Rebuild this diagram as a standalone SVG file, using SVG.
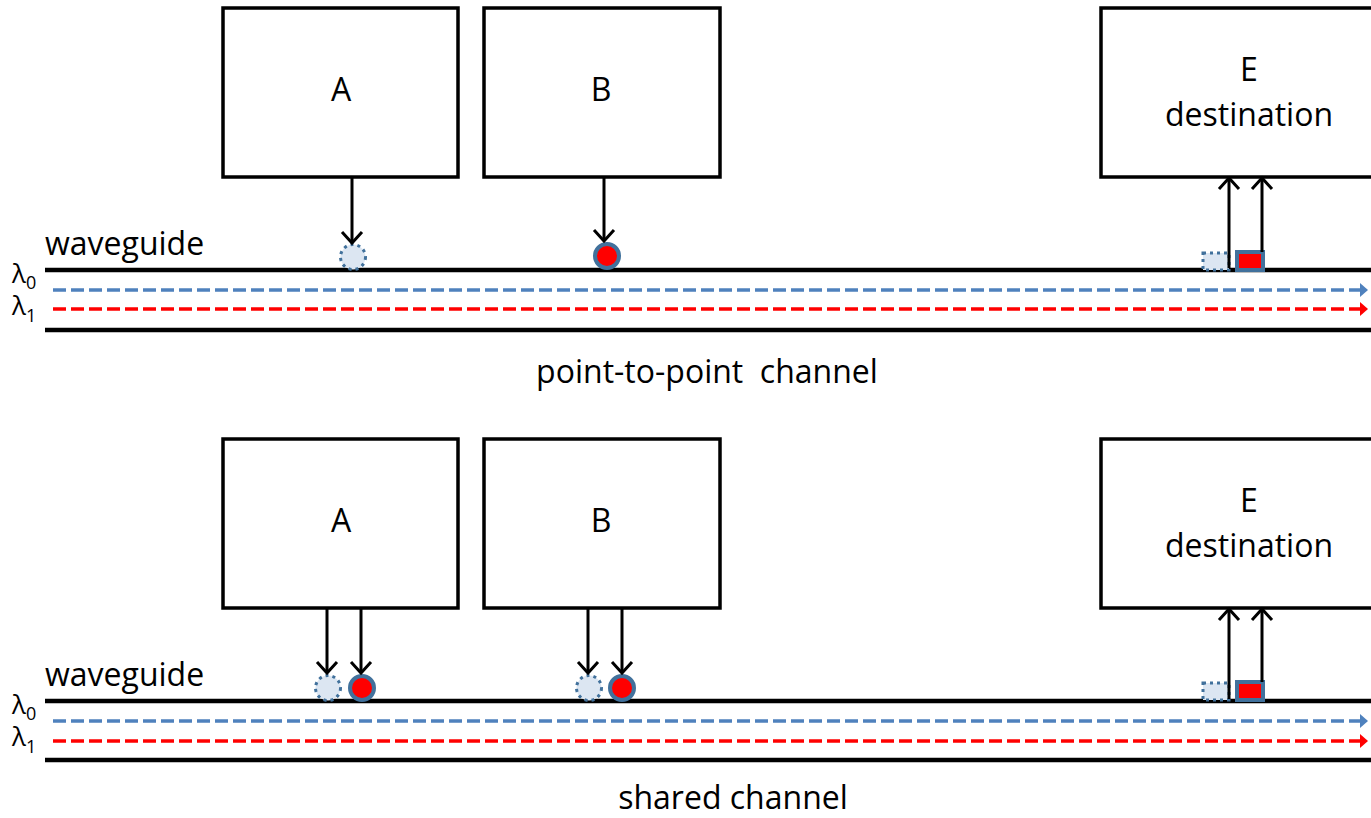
<svg xmlns="http://www.w3.org/2000/svg" width="1371" height="818" viewBox="0 0 1371 818">
<style>
.box{fill:#fff;stroke:#000;stroke-width:3.5}
.t{font-family:"Open Sans","Liberation Sans",sans-serif;font-size:32px;fill:#000}
.lam{font-family:"Open Sans","Liberation Sans",sans-serif;font-size:26px;fill:#000}
.wg{stroke:#000;stroke-width:4.5;fill:none}
.l0{stroke:#4f81bd;stroke-width:3.5;stroke-dasharray:13 5;fill:none}
.l1{stroke:#ff0000;stroke-width:3.5;stroke-dasharray:13 5;fill:none}
.arr{stroke:#000;stroke-width:3;fill:none}
.cd{fill:#dce6f2;stroke:#41719c;stroke-width:3;stroke-dasharray:3 4}
.cr{fill:#ff0000;stroke:#41719c;stroke-width:4}
</style>
<defs>
<marker id="ah" markerUnits="userSpaceOnUse" viewBox="-14 -12 16 24" refX="0" refY="0" markerWidth="16" markerHeight="24" orient="auto" overflow="visible">
<path d="M-11,-10 L0,0 L-11,10" fill="none" stroke="#000" stroke-width="3"/>
</marker>
<marker id="tb" markerUnits="userSpaceOnUse" viewBox="-8 -7 10 14" refX="0" refY="0" markerWidth="10" markerHeight="14" orient="auto" overflow="visible">
<path d="M-6,-7 L2,0 L-6,7 Z" fill="#4f81bd"/>
</marker>
<marker id="tr" markerUnits="userSpaceOnUse" viewBox="-8 -7 10 14" refX="0" refY="0" markerWidth="10" markerHeight="14" orient="auto" overflow="visible">
<path d="M-6,-7 L2,0 L-6,7 Z" fill="#ff0000"/>
</marker>
</defs>

<!-- top panel -->
<g id="waveguide1">
<line class="wg" x1="45" y1="270" x2="1371" y2="270"/>
<line class="wg" x1="45" y1="330" x2="1371" y2="330"/>
<line class="l0" x1="53" y1="290" x2="1366" y2="290" marker-end="url(#tb)"/>
<line class="l1" x1="53" y1="309" x2="1366" y2="309" marker-end="url(#tr)"/>
<text class="t" x="45" y="255">waveguide</text>
<text class="lam" x="12" y="283">λ<tspan font-size="18" dy="6">0</tspan></text>
<text class="lam" x="12" y="315">λ<tspan font-size="18" dy="7">1</tspan></text>
<text class="t" x="707" y="383" text-anchor="middle" xml:space="preserve">point-to-point  channel</text>
</g>
<g id="A1"><rect class="box" x="223" y="8" width="235" height="169"/><text class="t" x="341" y="101" text-anchor="middle">A</text></g>
<g id="B1"><rect class="box" x="484" y="8" width="236" height="169"/><text class="t" x="601" y="101" text-anchor="middle">B</text></g>
<g id="E1"><rect class="box" x="1101" y="8" width="290" height="169"/><text class="t" x="1249" y="81" text-anchor="middle">E</text><text class="t" x="1249" y="126" text-anchor="middle">destination</text></g>
<g id="signals1">
<circle class="cd" cx="353" cy="257" r="12.5"/>
<circle class="cr" cx="607" cy="256" r="12"/>
<rect class="cd" x="1203" y="253" width="26" height="17"/>
<rect x="1237" y="252" width="26" height="18" fill="#ff0000" stroke="#41719c" stroke-width="4"/>
</g>
<g id="connectors1">
<line class="arr" x1="352" y1="177" x2="352" y2="243" marker-end="url(#ah)"/>
<line class="arr" x1="604" y1="177" x2="604" y2="241" marker-end="url(#ah)"/>
<line class="arr" x1="1229" y1="268" x2="1229" y2="178" marker-end="url(#ah)"/>
<line class="arr" x1="1262" y1="252" x2="1262" y2="178" marker-end="url(#ah)"/>
</g>

<!-- bottom panel -->
<g id="waveguide2">
<line class="wg" x1="45" y1="701" x2="1371" y2="701"/>
<line class="wg" x1="45" y1="760" x2="1371" y2="760"/>
<line class="l0" x1="53" y1="721" x2="1366" y2="721" marker-end="url(#tb)"/>
<line class="l1" x1="53" y1="741" x2="1366" y2="741" marker-end="url(#tr)"/>
<text class="t" x="45" y="686">waveguide</text>
<text class="lam" x="12" y="714">λ<tspan font-size="18" dy="6">0</tspan></text>
<text class="lam" x="12" y="746">λ<tspan font-size="18" dy="7">1</tspan></text>
<text class="t" x="733" y="809" text-anchor="middle">shared channel</text>
</g>
<g id="A2"><rect class="box" x="223" y="439" width="235" height="169"/><text class="t" x="341" y="532" text-anchor="middle">A</text></g>
<g id="B2"><rect class="box" x="484" y="439" width="236" height="169"/><text class="t" x="601" y="532" text-anchor="middle">B</text></g>
<g id="E2"><rect class="box" x="1101" y="439" width="290" height="169"/><text class="t" x="1249" y="512" text-anchor="middle">E</text><text class="t" x="1249" y="557" text-anchor="middle">destination</text></g>
<g id="signals2">
<circle class="cd" cx="328" cy="688" r="12.5"/>
<circle class="cr" cx="362" cy="688" r="12"/>
<circle class="cd" cx="589" cy="688" r="12.5"/>
<circle class="cr" cx="622" cy="688" r="12"/>
<rect class="cd" x="1203" y="683" width="26" height="17"/>
<rect x="1237" y="682" width="26" height="18" fill="#ff0000" stroke="#41719c" stroke-width="4"/>
</g>
<g id="connectors2">
<line class="arr" x1="327" y1="608" x2="327" y2="673" marker-end="url(#ah)"/>
<line class="arr" x1="361" y1="608" x2="361" y2="673" marker-end="url(#ah)"/>
<line class="arr" x1="588" y1="608" x2="588" y2="673" marker-end="url(#ah)"/>
<line class="arr" x1="622" y1="608" x2="622" y2="673" marker-end="url(#ah)"/>
<line class="arr" x1="1229" y1="699" x2="1229" y2="609" marker-end="url(#ah)"/>
<line class="arr" x1="1262" y1="682" x2="1262" y2="609" marker-end="url(#ah)"/>
</g>
</svg>
